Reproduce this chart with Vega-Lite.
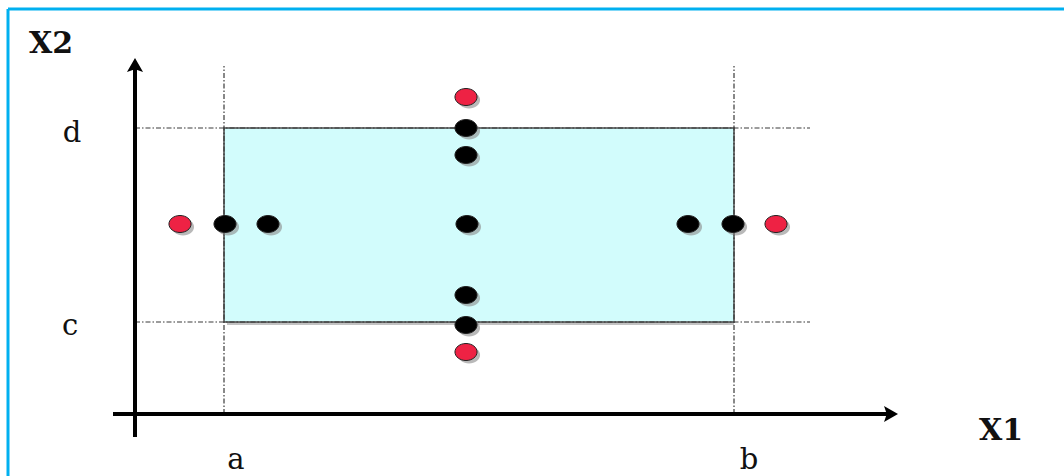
{
  "$schema": "https://vega.github.io/schema/vega-lite/v6.json",
  "width": 1064,
  "height": 476,
  "autosize": {"type": "none"},
  "padding": 0,
  "background": "white",
  "config": {"view": {"stroke": null}},
  "datasets": {
    "box": [{"x": 89, "y": 92, "x2": 599, "y2": 286}],
    "guides": [
      {"x": 89, "y": 0, "x2": 89, "y2": 348},
      {"x": 599, "y": 0, "x2": 599, "y2": 348},
      {"x": 0, "y": 286, "x2": 675, "y2": 286},
      {"x": 0, "y": 92, "x2": 675, "y2": 92}
    ],
    "axes": [
      {"x": 0, "y": -23, "x2": 0, "y2": 348},
      {"x": -22, "y": 0, "x2": 752, "y2": 0}
    ],
    "border": [
      {"x": -127, "y": 405, "x2": 929, "y2": 405},
      {"x": -127, "y": -62, "x2": -127, "y2": 405}
    ],
    "arrowY": [{"x": 0, "y": 349}],
    "arrowX": [{"x": 756, "y": 0}],
    "points": [
      {"x": 45, "y": 190, "kind": "outside"},
      {"x": 90, "y": 190, "kind": "inside"},
      {"x": 133, "y": 190, "kind": "inside"},
      {"x": 332, "y": 190, "kind": "inside"},
      {"x": 553, "y": 190, "kind": "inside"},
      {"x": 598, "y": 190, "kind": "inside"},
      {"x": 641, "y": 190, "kind": "outside"},
      {"x": 331, "y": 317, "kind": "outside"},
      {"x": 331, "y": 286, "kind": "inside"},
      {"x": 331, "y": 259, "kind": "inside"},
      {"x": 331, "y": 119, "kind": "inside"},
      {"x": 331, "y": 89, "kind": "inside"},
      {"x": 331, "y": 62, "kind": "outside"}
    ],
    "boldLabels": [
      {"x": -84, "y": 361, "label": "X2"},
      {"x": 866, "y": -26, "label": "X1"}
    ],
    "labels": [
      {"x": -63, "y": 272, "label": "d"},
      {"x": -65, "y": 79, "label": "c"},
      {"x": 101, "y": -55, "label": "a"},
      {"x": 614, "y": -55, "label": "b"}
    ]
  },
  "encoding": {
    "x": {"field": "x", "type": "quantitative", "scale": {"domain": [-135, 929], "nice": false, "zero": false}, "axis": null},
    "y": {"field": "y", "type": "quantitative", "scale": {"domain": [-62, 414], "nice": false, "zero": false}, "axis": null}
  },
  "layer": [
    {
      "data": {"name": "box"},
      "mark": {"type": "rect", "fill": "#9a9a9a", "opacity": 0.6, "xOffset": 3, "yOffset": 3},
      "encoding": {"x2": {"field": "x2"}, "y2": {"field": "y2"}}
    },
    {
      "data": {"name": "box"},
      "mark": {"type": "rect", "fill": "#d2fcfc", "stroke": "#4a4a4a", "strokeWidth": 1.5},
      "encoding": {"x2": {"field": "x2"}, "y2": {"field": "y2"}}
    },
    {
      "data": {"name": "guides"},
      "mark": {"type": "rule", "stroke": "#3a3a3a", "strokeWidth": 1.2, "strokeDash": [5, 2, 1.5, 2]},
      "encoding": {"x2": {"field": "x2"}, "y2": {"field": "y2"}}
    },
    {
      "data": {"name": "axes"},
      "mark": {"type": "rule", "stroke": "#000000", "strokeWidth": 4},
      "encoding": {"x2": {"field": "x2"}, "y2": {"field": "y2"}}
    },
    {
      "data": {"name": "arrowY"},
      "mark": {"type": "point", "shape": "M0,-1L1.15,1L0,0.6L-1.15,1Z", "size": 196, "filled": true, "color": "#000000", "opacity": 1}
    },
    {
      "data": {"name": "arrowX"},
      "mark": {"type": "point", "shape": "M1,0L-1,1.15L-0.6,0L-1,-1.15Z", "size": 196, "filled": true, "color": "#000000", "opacity": 1}
    },
    {
      "data": {"name": "border"},
      "mark": {"type": "rule", "stroke": "#00b0f0", "strokeWidth": 3},
      "encoding": {"x2": {"field": "x2"}, "y2": {"field": "y2"}}
    },
    {
      "data": {"name": "points"},
      "mark": {"type": "point", "shape": "M-1.3,0A1.3,1,0,1,0,1.3,0A1.3,1,0,1,0,-1.3,0Z", "size": 289, "filled": true, "color": "#8a8a8a", "opacity": 0.6, "xOffset": 3, "yOffset": 3}
    },
    {
      "data": {"name": "points"},
      "mark": {"type": "point", "shape": "M-1.3,0A1.3,1,0,1,0,1.3,0A1.3,1,0,1,0,-1.3,0Z", "size": 289, "filled": true, "opacity": 1, "stroke": "#222222", "strokeWidth": 1},
      "encoding": {
        "fill": {"field": "kind", "type": "nominal", "scale": {"domain": ["inside", "outside"], "range": ["#000000", "#ee2244"]}, "legend": null}
      }
    },
    {
      "data": {"name": "boldLabels"},
      "mark": {"type": "text", "font": "DejaVu Serif", "fontSize": 30, "fontWeight": "bold", "color": "#111111", "align": "center", "baseline": "alphabetic"},
      "encoding": {"text": {"field": "label"}}
    },
    {
      "data": {"name": "labels"},
      "mark": {"type": "text", "font": "DejaVu Serif", "fontSize": 29, "color": "#111111", "align": "center", "baseline": "alphabetic"},
      "encoding": {"text": {"field": "label"}}
    }
  ]
}
